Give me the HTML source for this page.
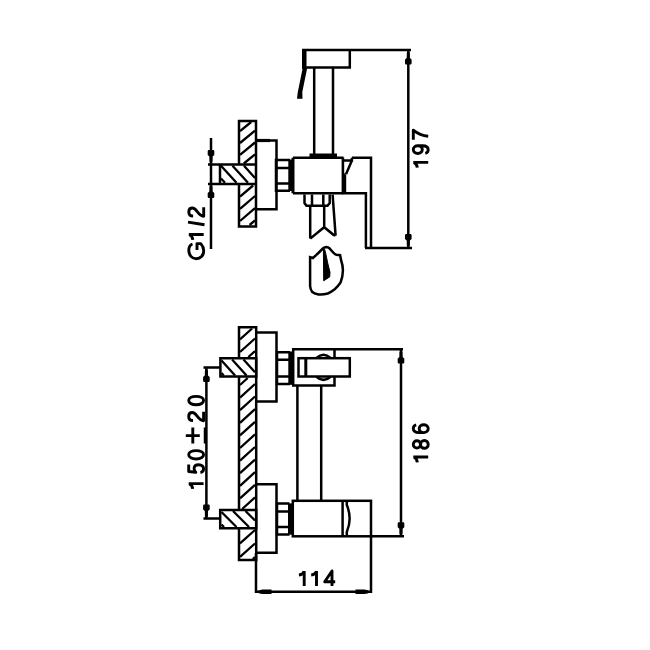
<!DOCTYPE html>
<html><head><meta charset="utf-8">
<style>
html,body{margin:0;padding:0;background:#fff;}
svg{display:block;}
text{font-family:"Liberation Sans",sans-serif;fill:#000;}
</style></head>
<body>
<svg width="650" height="650" viewBox="0 0 650 650">
<g fill="none" stroke="#000" stroke-width="2.5">
<!-- ===== UPPER FIGURE ===== -->
<path d="M302 50H411"/>
<path d="M349.8 50V68.6M303 67.4H351"/>
<rect x="302" y="49" width="4.5" height="20" fill="#000" stroke="none"/>
<path d="M314.2 67V154M333 67V154"/>
<rect x="309.5" y="153.5" width="27.5" height="4" fill="#000" stroke="none"/>
<path d="M302.5 69L307 69L302.3 92L302.5 98.8L297 98.8L297.8 92Z" fill="#000" stroke="none"/>
<path d="M293 157.7H343.5M293 193.3H343"/>
<path d="M293 157.7V193.3" stroke-width="3"/>
<path d="M341.6 157.5H344.2V173L346.2 175V194H341.6Z" fill="#000" stroke="none"/>
<path d="M343 160.6H351.9V157.7M351.9 160.6L346 174.2"/>
<path d="M351.9 157.7H371V248M342 193.3H365.9V248M365 248H412"/>
<path d="M290 160H276V190.8H290M276 168H290M276 183.6H290"/>
<rect x="288.3" y="159.5" width="4.5" height="31.5" fill="#000" stroke="none"/>
<path d="M257 140.5H276.5V209.3H257"/><path d="M257 140.5H270" stroke-width="3.2"/>
<path d="M239 164V121H256V226.5H239V184"/>
<path d="M208 164.5H257M208 184H257M220 164.5V184"/>
<path d="M211 138V249"/>
<path d="M304.5 194.5V203L306.5 205.7H327.5L329.7 203V194.5M312 194.5V205.7M323.3 194.5V205.7"/>
<path d="M332.6 194.7L335.6 235.7M310.2 205.7V238.6M324.2 205.7V227.2M310.2 238.6L324.2 227.2L333.5 234.8L335.6 235.7"/>
<path d="M310.1 257.1L312.9 258L316.1 255.2L319.4 252L323.1 248.3Q324.8 246.9 326.3 246.9Q328 247 329.5 248.3L333.2 252.5Q334.8 254.5 336.4 254.8L340.1 255.2L341.1 260.3Q342.8 265 342.9 270Q343 276 340.6 282.4Q338 286 335.1 288.9Q331 292 327.7 293.5Q323 294.8 318.5 294.4Q314 293.5 312 291.7Q310.3 289 310.1 286.1Z"/>
<path d="M323.4 249.5L324.6 249.2L325.8 253.8L327.7 263L330 272.3L329.7 276.9L323.7 280.8Z" fill="#000" stroke-width="1"/>
<path d="M408.3 50V248"/>
<!-- ===== LOWER FIGURE ===== -->
<path d="M239 358.3V327.2H256.2V560H239V529M239 376.6V509"/>
<path d="M220.4 358.3H256.2V376.6H220.4Z"/>
<path d="M220.2 510H256.2V528.3H220.2Z"/>
<path d="M257 332.6H276.5V401.6H257M257 484.3H276.5V552.7H257"/>
<path d="M290 352.3H277V384H290M277 359.7H290M277 376.5H290"/>
<rect x="288.3" y="351.5" width="4.5" height="33.3" fill="#000" stroke="none"/>
<path d="M289.5 503.6H277V534.4H289.5M277 511.6H289.5M277 527H289.5"/>
<rect x="288" y="503.4" width="4.8" height="31.2" fill="#000" stroke="none"/>
<path d="M334.5 358V349.3H293.2V385.4H334.5V376.5"/>
<path d="M334.5 349.3H403"/>
<rect x="298.5" y="358.2" width="51.3" height="18.3"/>
<path d="M305.8 358.2V376.5" stroke-width="3"/>
<path d="M316.5 358Q323.5 351.5 330.5 358M316.5 376.7Q323.5 383 330.5 376.7" stroke-width="2.6"/>
<path d="M297.4 386V500M321.2 386V500"/>
<rect x="292.8" y="500.8" width="78.2" height="35.5"/>
<path d="M342.6 500.8V536.3M346.8 500.8V505Q352.5 518.5 346.8 532V536.3"/>
<path d="M371 536.3H404M371 536.3V593M256 553V593M256 591.8H371"/>
<path d="M401 349.3V536.3"/>
<path d="M206.4 367.5V518.5M203.5 367.5H220M203.5 518.5H219"/>
<path d="M240.0 131.2L251.2 122.0 M240.0 143.0L255.0 130.7 M240.0 154.8L255.0 142.5 M243.8 163.5L255.0 154.3 M240.0 196.6L253.1 185.5 M240.0 208.8L255.0 196.0 M240.0 221.0L255.0 208.2 M249.6 225.0L255.0 220.4 M244.0 165.8L255.0 177.9 M232.5 165.8L248.0 182.8 M221.0 165.8L236.5 182.8 M221.0 178.4L225.0 182.8 M240.0 339.4L252.1 328.5 M240.0 352.0L255.0 338.5 M248.4 357.0L255.0 351.1 M240.0 385.0L247.7 378.0 M240.0 397.6L255.0 384.0 M240.0 410.2L255.0 396.5 M240.0 422.8L255.0 409.1 M240.0 435.4L255.0 421.8 M240.0 448.0L255.0 434.4 M240.0 460.6L255.0 447.0 M240.0 473.2L255.0 459.6 M240.0 485.8L255.0 472.1 M240.0 498.4L255.0 484.8 M242.2 509.0L255.0 497.4 M240.0 543.4L255.0 530.0 M240.0 556.9L255.0 543.5 M252.8 559.0L255.0 557.0 M243.5 359.6L255.0 372.3 M232.1 359.6L246.5 375.4 M221.5 360.4L235.1 375.4 M221.5 372.9L223.7 375.4 M245.5 511.0L255.0 520.5 M233.0 511.0L249.0 527.0 M221.5 512.0L236.5 527.0 M221.5 524.5L224.0 527.0" stroke-width="2.3"/>
</g>
<g fill="#000"><path d="M408.30 50.50L409.80 53.00L409.90 58.00L411.60 59.50L411.60 63.50L411.00 64.50L405.60 64.50L405.00 63.50L405.00 59.50L406.70 58.00L406.80 53.00Z"/><path d="M408.30 248.00L409.80 245.50L409.90 240.50L411.60 239.00L411.60 235.00L411.00 234.00L405.60 234.00L405.00 235.00L405.00 239.00L406.70 240.50L406.80 245.50Z"/><path d="M211.00 164.00L212.50 161.50L212.60 156.50L214.30 155.00L214.30 151.00L213.70 150.00L208.30 150.00L207.70 151.00L207.70 155.00L209.40 156.50L209.50 161.50Z"/><path d="M211.00 184.00L212.50 186.50L212.60 191.50L214.30 193.00L214.30 197.00L213.70 198.00L208.30 198.00L207.70 197.00L207.70 193.00L209.40 191.50L209.50 186.50Z"/><path d="M401.00 349.50L402.50 352.00L402.60 357.00L404.30 358.50L404.30 362.50L403.70 363.50L398.30 363.50L397.70 362.50L397.70 358.50L399.40 357.00L399.50 352.00Z"/><path d="M401.00 536.30L402.50 533.80L402.60 528.80L404.30 527.30L404.30 523.30L403.70 522.30L398.30 522.30L397.70 523.30L397.70 527.30L399.40 528.80L399.50 533.80Z"/><path d="M206.40 368.00L207.90 370.50L208.00 375.50L209.70 377.00L209.70 381.00L209.10 382.00L203.70 382.00L203.10 381.00L203.10 377.00L204.80 375.50L204.90 370.50Z"/><path d="M206.40 518.50L207.90 516.00L208.00 511.00L209.70 509.50L209.70 505.50L209.10 504.50L203.70 504.50L203.10 505.50L203.10 509.50L204.80 511.00L204.90 516.00Z"/><path d="M256.50 591.80L259.50 593.40L262.50 594.10L271.50 594.10L271.50 589.50L262.50 589.50L259.50 590.20Z"/><path d="M370.50 591.80L367.50 593.40L364.50 594.10L355.50 594.10L355.50 589.50L364.50 589.50L367.50 590.20Z"/></g>
<g transform="translate(412,169) rotate(-90)" fill="none" stroke="#000" stroke-width="2.9" stroke-linecap="butt" stroke-linejoin="round"><path transform="translate(0.4,0)" d="M6.2 16.2V1.3M6.2 1.6C5.4 3.9 3.4 5.1 0.9 5.3"/><path transform="translate(14.2,0)" d="M5.2 1.3C7.4 1.3 9.1 3.3 9.1 5.8C9.1 8.3 7.4 10.3 5.2 10.3C3 10.3 1.3 8.3 1.3 5.8C1.3 3.3 3 1.3 5.2 1.3ZM9.1 5.8V10.5C9.1 14.5 7.3 16.2 5 16.2C3 16.2 1.8 15 1.4 13.3"/><path transform="translate(28.4,0)" d="M0.8 1.3H10.5C6.8 5.8 4.8 10.8 4.4 16.2"/></g>
<g transform="translate(187.5,260) rotate(-90)" fill="none" stroke="#000" stroke-width="2.9" stroke-linecap="butt" stroke-linejoin="round"><path transform="translate(0,0)" d="M16 5C15.2 2.7 12.8 1.3 9.5 1.3C4.8 1.3 1.3 4.5 1.3 8.75C1.3 13 4.5 16.2 9.2 16.2C12 16.2 14.5 15 16.4 13.3V9.5H10"/><path transform="translate(19.3,0)" d="M6.2 16.2V1.3M6.2 1.6C5.4 3.9 3.4 5.1 0.9 5.3"/><path transform="translate(34.5,0)" d="M0.8 17L3.4 0.5"/><path transform="translate(42.5,0)" d="M1.5 5.6C1.5 2.8 3.2 1.3 5.6 1.3C7.9 1.3 9.5 2.8 9.5 5C9.5 9.3 1.6 10.4 1.3 16.2H10.2"/></g>
<g transform="translate(412,463) rotate(-90)" fill="none" stroke="#000" stroke-width="2.9" stroke-linecap="butt" stroke-linejoin="round"><path transform="translate(-0.2,0)" d="M6.2 16.2V1.3M6.2 1.6C5.4 3.9 3.4 5.1 0.9 5.3"/><path transform="translate(13.3,0)" d="M5.3 1.3C7.3 1.3 8.9 2.9 8.9 4.9C8.9 6.9 7.3 8.5 5.3 8.5C3.3 8.5 1.7 6.9 1.7 4.9C1.7 2.9 3.3 1.3 5.3 1.3ZM5.3 8.5C7.5 8.5 9.2 10.2 9.2 12.35C9.2 14.5 7.5 16.2 5.3 16.2C3.1 16.2 1.4 14.5 1.4 12.35C1.4 10.2 3.1 8.5 5.3 8.5Z"/><path transform="translate(29,0)" d="M5.3 16.2C3.1 16.2 1.4 14.2 1.4 11.7C1.4 9.2 3.1 7.2 5.3 7.2C7.5 7.2 9.2 9.2 9.2 11.7C9.2 14.2 7.5 16.2 5.3 16.2ZM1.4 11.7V7C1.4 3 3.2 1.3 5.5 1.3C7.5 1.3 8.7 2.5 9.1 4.2"/></g>
<g transform="translate(187.4,489) rotate(-90)" fill="none" stroke="#000" stroke-width="2.9" stroke-linecap="butt" stroke-linejoin="round"><path transform="translate(-0.8,0)" d="M6.2 16.2V1.3M6.2 1.6C5.4 3.9 3.4 5.1 0.9 5.3"/><path transform="translate(15.1,0)" d="M9.3 1.3H2.4L1.6 8.4C2.6 7.3 4 6.7 5.5 6.7C8 6.7 9.2 8.9 9.2 11.4C9.2 14.3 7.5 16.2 5.1 16.2C3 16.2 1.7 15 1.3 13"/><path transform="translate(28.7,0)" d="M5.5 1.3C8 1.3 9.7 4.5 9.7 8.75C9.7 13 8 16.2 5.5 16.2C3 16.2 1.3 13 1.3 8.75C1.3 4.5 3 1.3 5.5 1.3Z"/><path transform="translate(44.9,0)" d="M8.5 -1.6V12.4M0.5 5.4H16.5M0.5 17.8H16.5"/><path transform="translate(67,0)" d="M1.5 5.6C1.5 2.8 3.2 1.3 5.6 1.3C7.9 1.3 9.5 2.8 9.5 5C9.5 9.3 1.6 10.4 1.3 16.2H10.2"/><path transform="translate(82.9,0)" d="M5.5 1.3C8 1.3 9.7 4.5 9.7 8.75C9.7 13 8 16.2 5.5 16.2C3 16.2 1.3 13 1.3 8.75C1.3 4.5 3 1.3 5.5 1.3Z"/></g>
<g transform="translate(298,569.7)" fill="none" stroke="#000" stroke-width="2.9" stroke-linecap="butt" stroke-linejoin="round"><path transform="translate(0,0)" d="M6.2 16.2V1.3M6.2 1.6C5.4 3.9 3.4 5.1 0.9 5.3"/><path transform="translate(12.3,0)" d="M6.2 16.2V1.3M6.2 1.6C5.4 3.9 3.4 5.1 0.9 5.3"/><path transform="translate(25.4,0)" d="M8.6 16.2V1.3L1.3 12H11.8"/></g>
</svg>
</body></html>
